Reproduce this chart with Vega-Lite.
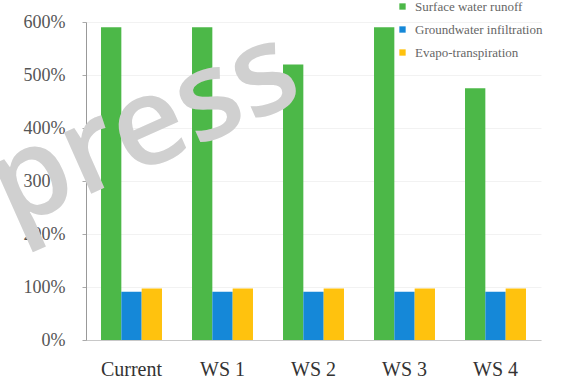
{
  "$schema": "https://vega.github.io/schema/vega-lite/v6.json",
  "width": 455,
  "height": 318,
  "autosize": {"type": "none"},
  "padding": {"left": 86, "top": 22, "right": 27, "bottom": 45},
  "background": "white",
  "config": {
    "view": {"stroke": null},
    "font": "Liberation Serif"
  },
  "datasets": {
    "flows": [
      {"scenario": "Current", "component": "Surface water runoff", "share": 5.9},
      {"scenario": "Current", "component": "Groundwater infiltration", "share": 0.91},
      {"scenario": "Current", "component": "Evapo-transpiration", "share": 0.97},
      {"scenario": "WS 1", "component": "Surface water runoff", "share": 5.9},
      {"scenario": "WS 1", "component": "Groundwater infiltration", "share": 0.91},
      {"scenario": "WS 1", "component": "Evapo-transpiration", "share": 0.97},
      {"scenario": "WS 2", "component": "Surface water runoff", "share": 5.2},
      {"scenario": "WS 2", "component": "Groundwater infiltration", "share": 0.91},
      {"scenario": "WS 2", "component": "Evapo-transpiration", "share": 0.97},
      {"scenario": "WS 3", "component": "Surface water runoff", "share": 5.9},
      {"scenario": "WS 3", "component": "Groundwater infiltration", "share": 0.91},
      {"scenario": "WS 3", "component": "Evapo-transpiration", "share": 0.97},
      {"scenario": "WS 4", "component": "Surface water runoff", "share": 4.75},
      {"scenario": "WS 4", "component": "Groundwater infiltration", "share": 0.91},
      {"scenario": "WS 4", "component": "Evapo-transpiration", "share": 0.97}
    ],
    "stamp": [{"scenario": "Current", "share": 3.1, "word": "press"}]
  },
  "layer": [
    {
      "data": {"name": "flows"},
      "mark": {"type": "bar"},
      "encoding": {
        "x": {
          "field": "scenario",
          "type": "nominal",
          "sort": null,
          "scale": {"paddingInner": 0.33, "paddingOuter": 0.165},
          "axis": {
            "title": null,
            "labelAngle": 0,
            "labelFontSize": 20,
            "labelColor": "#333333",
            "labelPadding": 19,
            "ticks": false,
            "domainColor": "#c8c8c8",
            "domainWidth": 1
          }
        },
        "xOffset": {
          "field": "component",
          "type": "nominal",
          "sort": ["Surface water runoff", "Groundwater infiltration", "Evapo-transpiration"],
          "scale": {"paddingInner": 0, "paddingOuter": 0}
        },
        "y": {
          "field": "share",
          "type": "quantitative",
          "scale": {"domain": [0, 6], "nice": false},
          "axis": {
            "title": null,
            "format": ".0%",
            "values": [0, 1, 2, 3, 4, 5, 6],
            "labelFontSize": 18,
            "labelColor": "#555555",
            "labelPadding": 17,
            "tickSize": 4,
            "tickColor": "#aaaaaa",
            "domainColor": "#999999",
            "gridColor": "#f2f2f2",
            "grid": true
          }
        },
        "color": {
          "field": "component",
          "type": "nominal",
          "sort": ["Surface water runoff", "Groundwater infiltration", "Evapo-transpiration"],
          "scale": {
            "domain": ["Surface water runoff", "Groundwater infiltration", "Evapo-transpiration"],
            "range": ["#4cb848", "#1588d8", "#ffc20e"]
          },
          "legend": {
            "title": null,
            "orient": "none",
            "legendX": 310,
            "legendY": -22,
            "symbolType": "square",
            "symbolSize": 40,
            "labelFontSize": 13,
            "labelColor": "#666666",
            "rowPadding": 9,
            "labelOffset": 6
          }
        }
      }
    },
    {
      "data": {"name": "stamp"},
      "mark": {
        "type": "text",
        "font": "Open Sans",
        "fontSize": 124,
        "fontWeight": 600,
        "angle": 336,
        "dx": 30,
        "color": "#d0d0d0",
        "align": "center",
        "baseline": "alphabetic"
      },
      "encoding": {
        "x": {"field": "scenario", "type": "nominal"},
        "y": {"field": "share", "type": "quantitative"},
        "text": {"field": "word"}
      }
    }
  ]
}
